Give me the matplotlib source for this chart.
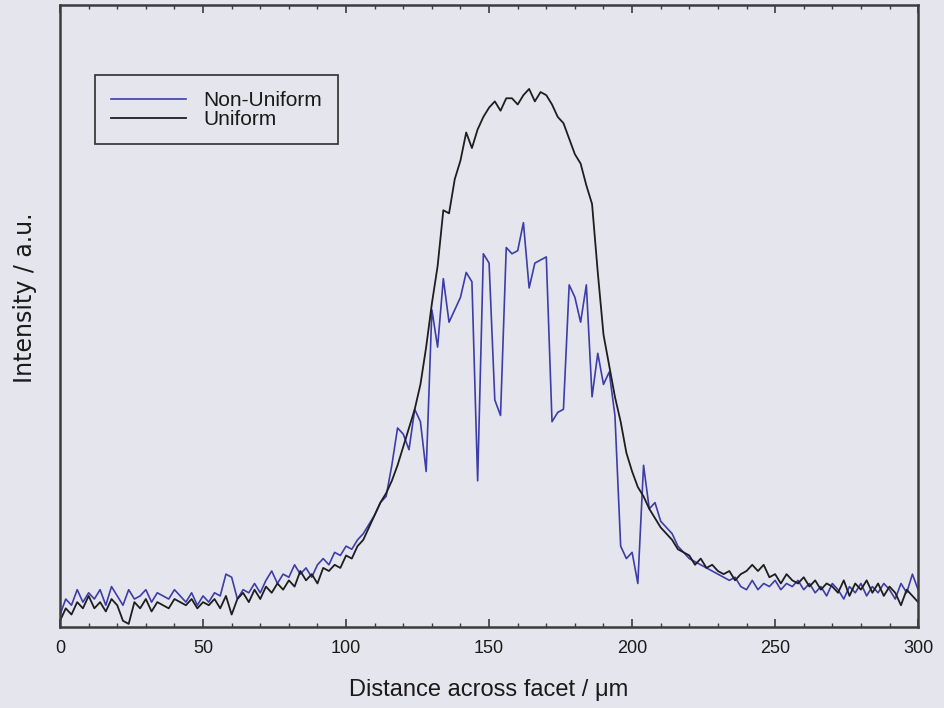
import numpy as np
import matplotlib
matplotlib.use("Agg")
import matplotlib.pyplot as plt
from matplotlib.ticker import MultipleLocator

# distance across facet (um), sampled every 2 um
distance = np.arange(0, 301, 2)

non_uniform = [
    0.02, 0.045, 0.035, 0.06, 0.04, 0.055, 0.045, 0.06, 0.035, 0.065,
    0.05, 0.035, 0.06, 0.045, 0.05, 0.06, 0.04, 0.055, 0.05, 0.045,
    0.06, 0.05, 0.04, 0.055, 0.035, 0.05, 0.04, 0.055, 0.05, 0.085,
    0.08, 0.045, 0.06, 0.055, 0.07, 0.055, 0.075, 0.09, 0.07, 0.085,
    0.08, 0.1, 0.085, 0.095, 0.08, 0.1, 0.11, 0.1, 0.12, 0.115,
    0.13, 0.125, 0.14, 0.15, 0.165, 0.18, 0.2, 0.21, 0.26, 0.32,
    0.31, 0.285, 0.35, 0.33, 0.25, 0.51, 0.45, 0.56, 0.49, 0.51,
    0.53, 0.57, 0.555, 0.235, 0.6, 0.585, 0.365, 0.34, 0.61, 0.6,
    0.605, 0.65, 0.545, 0.585, 0.59, 0.595, 0.33, 0.345, 0.35, 0.55,
    0.53, 0.49, 0.55, 0.37, 0.44, 0.39, 0.41, 0.34, 0.13, 0.11,
    0.12, 0.07, 0.26, 0.19, 0.2, 0.17, 0.16, 0.15, 0.13, 0.12,
    0.11, 0.105, 0.1, 0.095, 0.09, 0.085, 0.08, 0.075, 0.08, 0.065,
    0.06, 0.075, 0.06, 0.07, 0.065, 0.075, 0.06, 0.07, 0.065, 0.075,
    0.06, 0.07, 0.055, 0.065, 0.05, 0.07, 0.06, 0.045, 0.065, 0.055,
    0.07, 0.05, 0.065, 0.055, 0.07, 0.06, 0.045, 0.07, 0.055, 0.085,
    0.06,
]

uniform = [
    0.01, 0.03, 0.02, 0.04, 0.03, 0.05, 0.03, 0.04, 0.025, 0.045,
    0.035, 0.01, 0.005, 0.04, 0.03, 0.045, 0.025, 0.04, 0.035, 0.03,
    0.045, 0.04, 0.035, 0.045, 0.03, 0.04, 0.035, 0.045, 0.03, 0.05,
    0.02, 0.045, 0.055, 0.04, 0.06, 0.045, 0.065, 0.055, 0.07, 0.06,
    0.075, 0.065, 0.09, 0.075, 0.085, 0.07, 0.095, 0.09, 0.1, 0.095,
    0.115, 0.11, 0.13, 0.14, 0.16, 0.18, 0.2, 0.215, 0.235, 0.26,
    0.29, 0.32, 0.35, 0.39, 0.45, 0.52, 0.58, 0.67, 0.665, 0.72,
    0.75, 0.795, 0.77, 0.8, 0.82, 0.835, 0.845, 0.83, 0.85, 0.85,
    0.84, 0.855, 0.865, 0.845, 0.86, 0.855, 0.84, 0.82, 0.81, 0.785,
    0.76, 0.745, 0.71, 0.68, 0.57, 0.47, 0.42, 0.37, 0.33, 0.28,
    0.25, 0.225, 0.21, 0.19, 0.175, 0.16, 0.15, 0.14, 0.125, 0.12,
    0.115, 0.1, 0.11, 0.095, 0.1, 0.09, 0.085, 0.09, 0.075, 0.085,
    0.09, 0.1, 0.09, 0.1, 0.08, 0.085, 0.07, 0.085, 0.075, 0.07,
    0.08, 0.065, 0.075, 0.06, 0.07, 0.065, 0.055, 0.075, 0.05, 0.07,
    0.06, 0.075, 0.055, 0.07, 0.05, 0.065, 0.055, 0.035, 0.06, 0.05,
    0.04,
]

x_ticks = [0, 50, 100, 150, 200, 250, 300]

bg = '#e5e5ed'
frame = '#3c3c3c'

fig = plt.figure(figsize=(9.44, 7.08), dpi=100, facecolor=bg)
ax = fig.add_axes([0.0636, 0.1144, 0.909, 0.8786], facecolor=bg)

ax.plot(distance, non_uniform, color='#3d3da8', linewidth=1.2, label='Non-Uniform')
ax.plot(distance, uniform, color='#1e1e1e', linewidth=1.3, label='Uniform')

ax.set_xlim(0, 300)
ax.set_ylim(0, 1.0)
ax.set_xticks(x_ticks)
ax.xaxis.set_minor_locator(MultipleLocator(10))
ax.set_yticks([])
ax.tick_params(axis='x', which='both', direction='in', top=True, bottom=True,
               color=frame, labelsize=13, pad=9)
ax.tick_params(axis='x', which='major', length=6, width=1.2)
ax.tick_params(axis='x', which='minor', length=3, width=1.0)
for lbl in ax.get_xticklabels():
    lbl.set_fontfamily('Liberation Sans')
    lbl.set_color('#1a1a1a')
for s in ax.spines.values():
    s.set_color(frame)
    s.set_linewidth(1.8)

ax.set_xlabel('Distance across facet / μm', fontsize=17, family='Liberation Sans',
              color='#1a1a1a', labelpad=16)
fig.text(0.027, 0.579, 'Intensity / a.u.', rotation=90, ha='center', va='center',
         fontsize=17, family='DejaVu Sans', color='#1a1a1a')

leg = ax.legend(loc='upper left', bbox_to_anchor=(0.041, 0.887), frameon=True,
                fancybox=False, edgecolor=frame, facecolor=bg, framealpha=1,
                prop={'family': 'Liberation Sans', 'size': 15},
                handlelength=3.6, handletextpad=0.85, borderpad=0.75,
                labelspacing=0.0, borderaxespad=0)
leg.get_frame().set_linewidth(1.3)
for t in leg.get_texts():
    t.set_color('#1a1a1a')

fig.savefig('out.png', dpi=100, facecolor=bg)
